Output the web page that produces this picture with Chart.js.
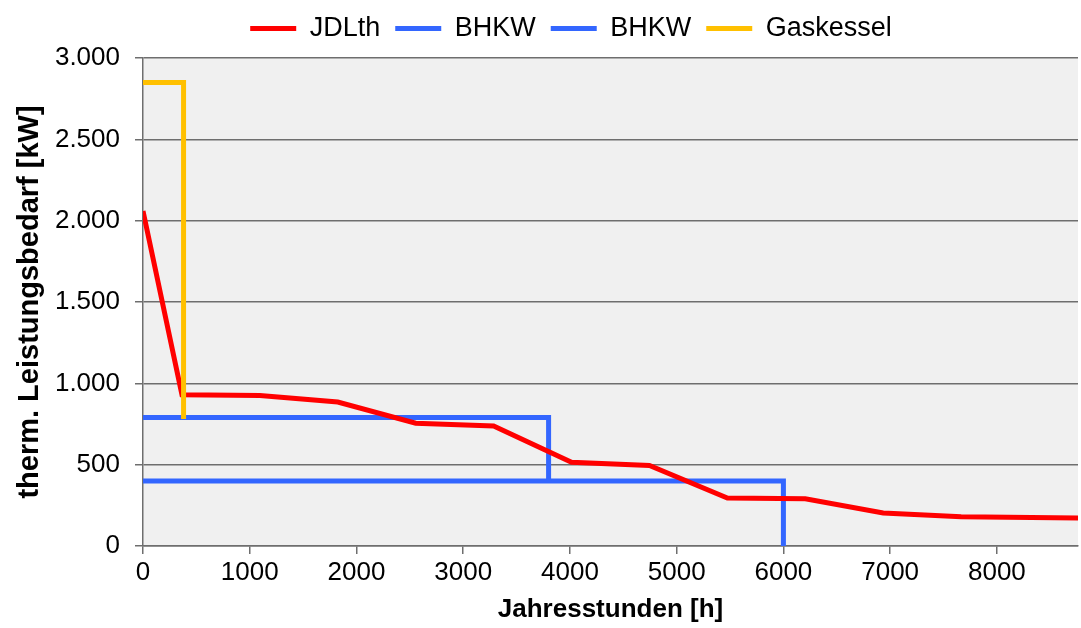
<!DOCTYPE html>
<html>
<head>
<meta charset="utf-8">
<script src="https://cdn.jsdelivr.net/npm/chart.js@4/dist/chart.umd.min.js"></script>
<style>
  html, body { margin: 0; padding: 0; background: #ffffff; }
  #wrap { width: 1081px; height: 628px; position: relative; }
</style>
</head>
<body>
<div id="wrap"><canvas id="lastChart"></canvas></div>
<script>
// Jahresdauerlinie (Stunden / kW)
const stunden = [0, 365, 1095, 1825, 2555, 3285, 4015, 4745, 5475, 6205, 6935, 7665, 8760];
const jdlth = [2060, 930, 925, 885, 755, 738, 515, 495, 295, 290, 203, 180, 172];

// BHKW 1
const bhkw1Stunden = [0, 3800, 3800];
const bhkw1Werte = [790, 790, 400];

// BHKW 2
const bhkw2Stunden = [0, 6000, 6000];
const bhkw2Werte = [400, 400, 0];

// Gaskessel
const kesselStunden = [0, 380, 380];
const kesselWerte = [2850, 2850, 780];

const xTicks = [0, 1000, 2000, 3000, 4000, 5000, 6000, 7000, 8000];
const yTicks = [0, 500, 1000, 1500, 2000, 2500, 3000];

function toPoints(xs, ys) {
    return xs.map((x, i) => ({ x: x, y: ys[i] }));
}

function formatDe(v) {
    return String(v).replace(/\B(?=(\d{3})+(?!\d))/g, '.');
}

// Hintergrund der Zeichenfläche
const plotBackground = {
    id: 'plotBackground',
    beforeDraw(chart) {
        const { ctx, chartArea } = chart;
        ctx.save();
        ctx.fillStyle = '#f0f0f0';
        ctx.fillRect(chartArea.left, chartArea.top, chartArea.right - chartArea.left, chartArea.bottom - chartArea.top);
        ctx.restore();
    }
};

// Legende: feste Höhe (Zeichenfläche ab y=58) und etwas nach rechts versetzt
const legendPlacement = {
    id: 'legendPlacement',
    beforeLayout(chart) {
        const lg = chart.legend;
        if (lg && !lg._fixedHeight) {
            const origFit = lg.fit.bind(lg);
            lg.fit = function() {
                origFit();
                this.height = 58;
            };
            lg._fixedHeight = true;
        }
    },
    afterLayout(chart) {
        const lg = chart.legend;
        if (lg) {
            lg.left += 32;
            lg.right += 32;
        }
    }
};

Chart.defaults.font.family = '"Liberation Sans", Arial, sans-serif';
Chart.defaults.color = '#000000';

const lineStyle = { showLine: true, pointRadius: 0, pointHoverRadius: 0, borderWidth: 5, tension: 0, fill: false };

new Chart(document.getElementById('lastChart'), {
    type: 'scatter',
    data: {
        datasets: [
            Object.assign({ label: 'JDLth', data: toPoints(stunden, jdlth), borderColor: '#ff0000', backgroundColor: '#ff0000', order: 1 }, lineStyle),
            Object.assign({ label: 'BHKW', data: toPoints(bhkw1Stunden, bhkw1Werte), borderColor: '#3366ff', backgroundColor: '#3366ff', order: 2 }, lineStyle),
            Object.assign({ label: 'BHKW', data: toPoints(bhkw2Stunden, bhkw2Werte), borderColor: '#3366ff', backgroundColor: '#3366ff', order: 3 }, lineStyle),
            Object.assign({ label: 'Gaskessel', data: toPoints(kesselStunden, kesselWerte), borderColor: '#ffc000', backgroundColor: '#ffc000', order: 0 }, lineStyle)
        ]
    },
    options: {
        responsive: true,
        maintainAspectRatio: false,
        animation: false,
        layout: { padding: { top: 0, right: 3, left: 0, bottom: 0 } },
        scales: {
            x: {
                type: 'linear',
                min: 0,
                max: 8760,
                afterBuildTicks: scale => { scale.ticks = xTicks.map(v => ({ value: v })); },
                afterFit: scale => { scale.height = 82; },
                ticks: { font: { size: 26 }, padding: 3, maxRotation: 0, callback: v => String(v) },
                grid: { drawOnChartArea: false, drawTicks: true, tickLength: 8, color: '#6e6e6e', lineWidth: 1.5 },
                border: { display: true, color: '#6e6e6e', width: 1.5 },
                title: { display: true, text: 'Jahresstunden [h]', font: { size: 26, weight: 'bold' }, padding: { top: 0, bottom: 3 } }
            },
            y: {
                min: 0,
                max: 3000,
                afterBuildTicks: scale => { scale.ticks = yTicks.map(v => ({ value: v })); },
                afterFit: scale => { scale.width = 143; },
                ticks: { font: { size: 26 }, padding: 15, callback: v => formatDe(v) },
                grid: { drawTicks: true, tickLength: 8, color: '#6e6e6e', lineWidth: 1.5 },
                border: { display: true, color: '#6e6e6e', width: 1.5 },
                title: { display: true, text: 'therm. Leistungsbedarf [kW]', font: { size: 29, weight: 'bold' }, padding: { top: 13, bottom: 0 } }
            }
        },
        plugins: {
            legend: {
                position: 'top',
                labels: {
                    usePointStyle: true,
                    pointStyle: 'line',
                    pointStyleWidth: 46,
                    font: { size: 27 },
                    padding: 15,
                    sort: (a, b) => a.datasetIndex - b.datasetIndex
                }
            },
            tooltip: { enabled: false }
        }
    },
    plugins: [plotBackground, legendPlacement]
});
</script>
</body>
</html>
